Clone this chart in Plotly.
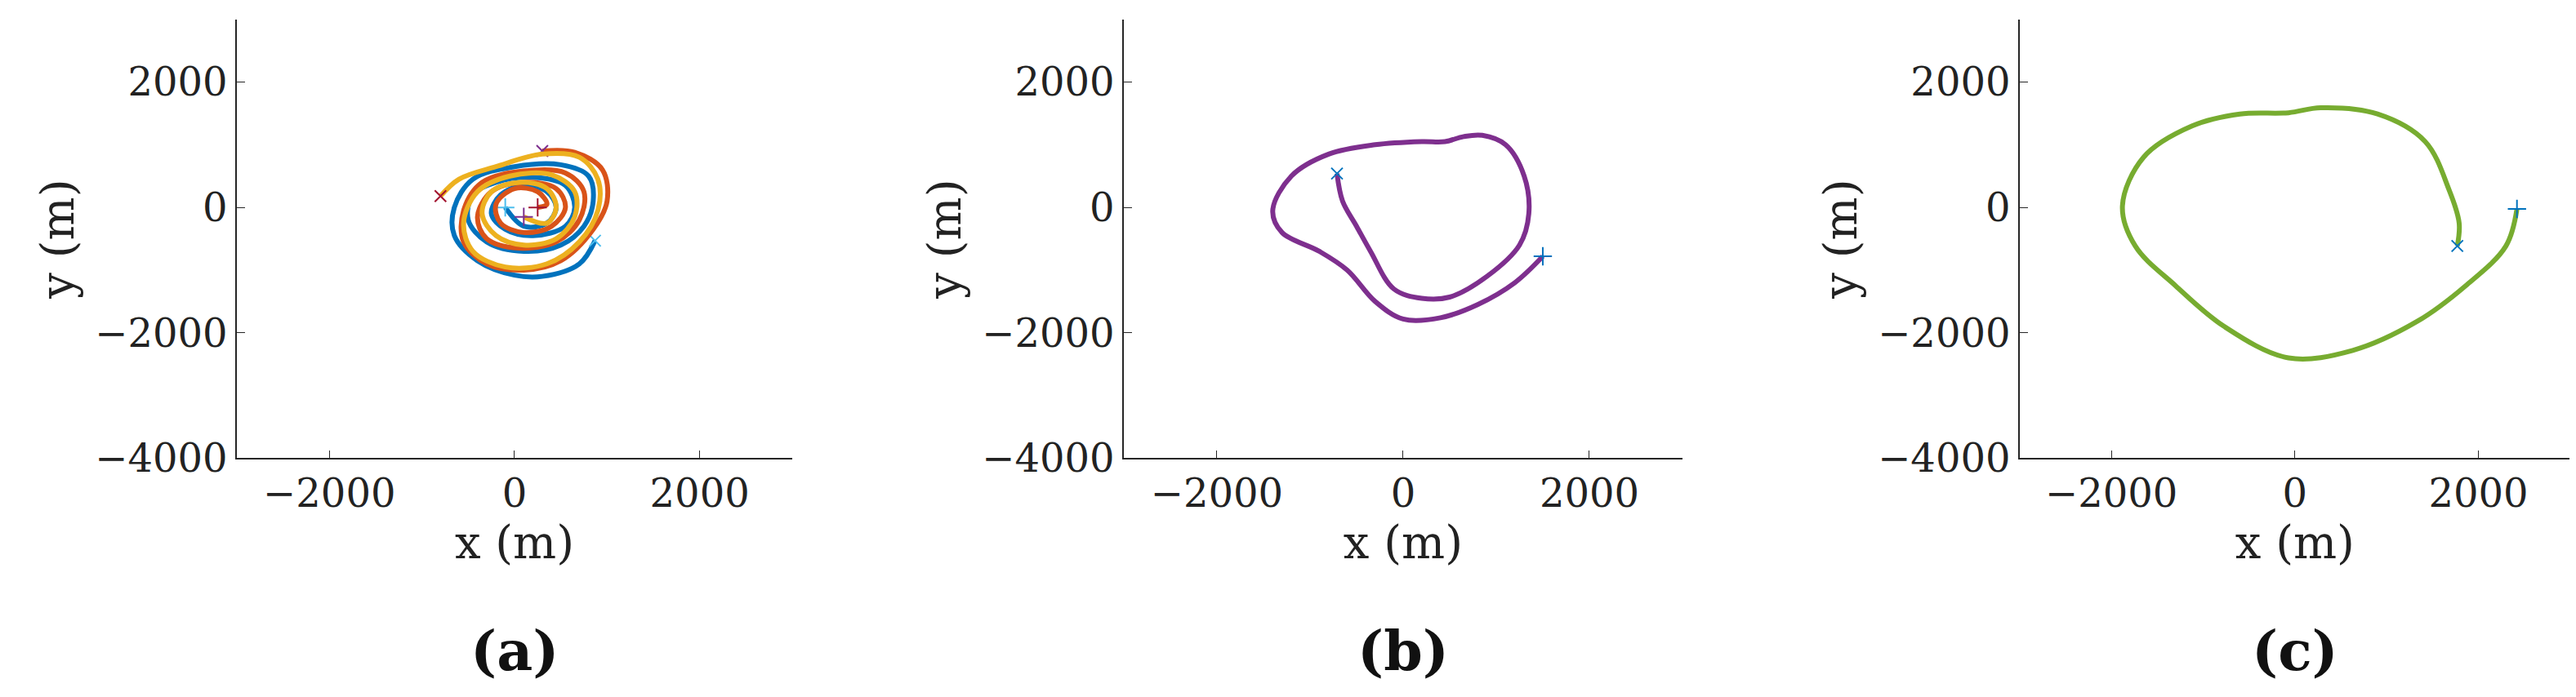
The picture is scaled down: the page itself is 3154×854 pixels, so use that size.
import plotly.graph_objects as go

# panel (a): three interleaved spirals
blue_x = [870, 700, 300, 0, -400, -650, -650, -450, 0, 500, 800, 850, 750, 500, 100, -300, -500, -450, -200, 200, 550, 650, 550, 200, -100, -250, -150, 100, 350, 450, 350, 100, -100]
blue_y = [-530, -900, -1100, -1080, -850, -450, 0, 450, 650, 680, 500, 100, -300, -600, -700, -550, -200, 200, 400, 480, 350, 0, -300, -450, -350, -100, 200, 350, 250, 0, -250, -300, 0]
red_x = [300, 650, 950, 1000, 850, 500, 100, -300, -550, -550, -350, 100, 550, 750, 700, 450, 50, -300, -400, -250, 100, 450, 550, 400, 100, -150, -200, 0, 250, 350, 250]
red_y = [900, 880, 600, 100, -350, -850, -1000, -900, -550, -50, 400, 580, 550, 250, -200, -550, -650, -500, -150, 250, 400, 300, 0, -300, -400, -250, 50, 300, 250, 50, 0]
yel_x = [-800, -600, -200, 300, 700, 900, 900, 700, 350, -100, -450, -550, -400, -50, 400, 650, 650, 450, 100, -200, -350, -250, 50, 350, 450, 350, 100]
yel_y = [180, 450, 650, 850, 800, 450, -50, -550, -900, -950, -700, -250, 250, 500, 520, 250, -150, -500, -600, -450, -100, 250, 400, 300, 0, -250, -150]

# panel (b)
pur_x = [-710, -650, -500, -350, -100, 200, 500, 900, 1250, 1350, 1300, 1100, 850, 650, 450, 200, -300, -800, -1200, -1400, -1300, -900, -600, -300, 0, 400, 800, 1200, 1500]
pur_y = [540, 100, -300, -700, -1300, -1450, -1430, -1100, -600, -100, 500, 1000, 1150, 1130, 1050, 1050, 1000, 850, 500, -50, -400, -700, -1000, -1500, -1780, -1760, -1550, -1200, -780]

# panel (c)
grn_x = [1770, 1790, 1680, 1420, 900, 280, -70, -600, -1120, -1650, -1880, -1740, -1300, -770, -70, 630, 1330, 1860, 2300, 2420]
grn_y = [-615, -250, 280, 1050, 1490, 1590, 1510, 1490, 1300, 800, 25, -615, -1250, -1900, -2400, -2280, -1820, -1250, -615, -25]

BLUE, RED, YEL = "#0072BD", "#D95319", "#EDB120"
PURPLE, GREEN = "#7E2F8E", "#77AC30"
FONT = "DejaVu Serif"

fig = go.Figure()

def add_path(xs, ys, color, ax, start_col, end_col):
    fig.add_trace(go.Scatter(x=xs, y=ys, mode="lines", line=dict(color=color, width=6, shape="spline", smoothing=1.0),
                             xaxis="x" + ax, yaxis="y" + ax, showlegend=False))
    fig.add_trace(go.Scatter(x=[xs[0]], y=[ys[0]], mode="markers",
                             marker=dict(symbol="x-thin", size=14, line=dict(color=start_col, width=2)),
                             xaxis="x" + ax, yaxis="y" + ax, showlegend=False))
    fig.add_trace(go.Scatter(x=[xs[-1]], y=[ys[-1]], mode="markers",
                             marker=dict(symbol="cross-thin", size=16, line=dict(color=end_col, width=2)),
                             xaxis="x" + ax, yaxis="y" + ax, showlegend=False))

add_path(blue_x, blue_y, BLUE, "", "#4DBEEE", "#4DBEEE")
add_path(red_x, red_y, RED, "", PURPLE, "#A2142F")
add_path(yel_x, yel_y, YEL, "", "#A2142F", PURPLE)
add_path(pur_x, pur_y, PURPLE, "2", BLUE, BLUE)
add_path(grn_x, grn_y, GREEN, "3", BLUE, BLUE)

domains = [(0.0894, 0.305), (0.4337, 0.6506), (0.7815, 0.9952)]
ax_common = dict(showline=True, linecolor="#262626", linewidth=1.5, ticks="inside", ticklen=10,
                 tickcolor="#262626", showgrid=False, zeroline=False,
                 tickfont=dict(family=FONT, size=48, color="#222"))
layout = {}
for i, (a, b) in enumerate(domains):
    sfx = "" if i == 0 else str(i + 1)
    layout["xaxis" + sfx] = dict(ax_common, domain=[a, b], range=[-3000, 3000], tickvals=[-2000, 0, 2000],
                                 ticktext=["\u22122000", "0", "2000"], anchor="y" + sfx,
                                 title=dict(text="x (m)", font=dict(family=FONT, size=56, color="#222"), standoff=10))
    layout["yaxis" + sfx] = dict(ax_common, domain=[0.33, 0.981], range=[-4000, 3000],
                                 tickvals=[-4000, -2000, 0, 2000], ticktext=["\u22124000", "\u22122000", "0", "2000"],
                                 anchor="x" + sfx,
                                 title=dict(text="y (m)", font=dict(family=FONT, size=56, color="#222"), standoff=8))
fig.update_layout(**layout)

for lab, (a, b) in zip(["(a)", "(b)", "(c)"], domains):
    fig.add_annotation(text="<b>" + lab + "</b>", x=(a + b) / 2, y=0.045, xref="paper", yref="paper",
                       xanchor="center", yanchor="middle", showarrow=False,
                       font=dict(family=FONT, size=68, color="#111"))

fig.update_layout(width=3154, height=854, margin=dict(l=0, r=0, t=0, b=0),
                  plot_bgcolor="white", paper_bgcolor="white")
fig.write_html("out.html")
